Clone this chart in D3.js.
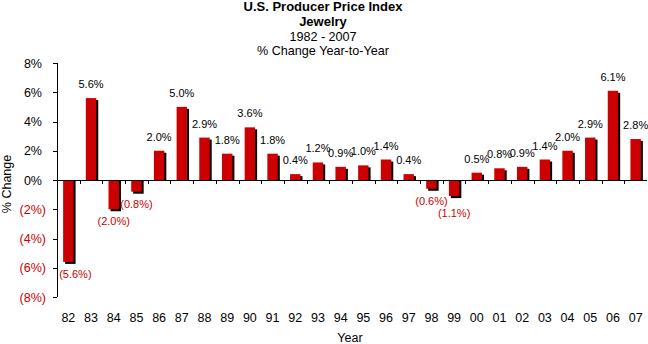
<!DOCTYPE html>
<html>
<head>
<meta charset="utf-8">
<script src="https://cdn.jsdelivr.net/npm/d3@7"></script>
<style>
  body { margin: 0; background: #fff; }
  svg { display: block; font-family: Arial, "Liberation Sans", sans-serif; }
</style>
</head>
<body>
<script>
// chart data
var years = ["82", "83", "84", "85", "86", "87", "88", "89", "90", "91", "92", "93", "94",
             "95", "96", "97", "98", "99", "00", "01", "02", "03", "04", "05", "06", "07"];
var changes = [-5.6, 5.6, -2.0, -0.8, 2.0, 5.0, 2.9, 1.8, 3.6, 1.8, 0.4, 1.2, 0.9,
               1.0, 1.4, 0.4, -0.6, -1.1, 0.5, 0.8, 0.9, 1.4, 2.0, 2.9, 6.1, 2.8];
var yTicks = [-8, -6, -4, -2, 0, 2, 4, 6, 8];
var titleLines = ["U.S. Producer Price Index", "Jewelry", "1982 - 2007", "% Change Year-to-Year"];

var width = 648, height = 344;
var red = "#cc0000";

var svg = d3.select("body").append("svg").attr("width", width).attr("height", height);

var x = d3.scaleBand().domain(years).range([57, 647]);
var y = d3.scaleLinear().domain([-8, 8]).range([297, 63]);
var barW = x.bandwidth() * 0.46;

var data = years.map(function(d, i) { return {year: d, value: changes[i]}; });

// title
svg.selectAll(".title").data(titleLines)
  .enter().append("text")
  .attr("x", 323)
  .attr("y", function(d, i) { return [11, 26, 41, 55][i]; })
  .attr("text-anchor", "middle")
  .attr("font-size", function(d, i) { return i < 2 ? 13 : 12.6; })
  .attr("font-weight", function(d, i) { return i < 2 ? "bold" : "normal"; })
  .text(function(d) { return d; });

// shadows
svg.selectAll(".shadow").data(data)
  .enter().append("rect")
  .attr("x", function(d) { return x(d.year) + (x.bandwidth() - barW) / 2 + 2; })
  .attr("y", function(d) { return d.value > 0 ? y(d.value) + 2 : y(0); })
  .attr("width", barW)
  .attr("height", function(d) { return d.value > 0 ? y(0) - y(d.value) - 2 : y(d.value) - y(0) + 2; })
  .attr("fill", "#000");

// bars
svg.selectAll(".bar").data(data)
  .enter().append("rect")
  .attr("x", function(d) { return x(d.year) + (x.bandwidth() - barW) / 2; })
  .attr("y", function(d) { return y(Math.max(0, d.value)); })
  .attr("width", barW)
  .attr("height", function(d) { return Math.abs(y(d.value) - y(0)); })
  .attr("fill", red);

// y axis
svg.append("line").attr("x1", 57.5).attr("x2", 57.5).attr("y1", y(8)).attr("y2", y(-8))
  .attr("stroke", "#000");
svg.selectAll(".ytick").data(yTicks)
  .enter().append("line")
  .attr("x1", 53).attr("x2", 57)
  .attr("y1", function(d) { return Math.round(y(d)) + 0.5; })
  .attr("y2", function(d) { return Math.round(y(d)) + 0.5; })
  .attr("stroke", "#000");
svg.selectAll(".ylabel").data(yTicks)
  .enter().append("text")
  .attr("x", function(d) { return d < 0 ? 46 : 42; })
  .attr("y", function(d) { return y(d); })
  .attr("dy", "0.36em")
  .attr("text-anchor", "end")
  .attr("font-size", 12.5)
  .attr("fill", function(d) { return d < 0 ? red : "#000"; })
  .text(function(d) { return d < 0 ? "(" + (-d) + "%)" : d + "%"; });

// zero line with ticks between categories
svg.append("line").attr("x1", 57).attr("x2", 647)
  .attr("y1", Math.round(y(0)) + 0.5).attr("y2", Math.round(y(0)) + 0.5)
  .attr("stroke", "#000");
svg.selectAll(".xtick").data(years.slice(1))
  .enter().append("line")
  .attr("x1", function(d) { return Math.round(x(d)) + 0.5; })
  .attr("x2", function(d) { return Math.round(x(d)) + 0.5; })
  .attr("y1", y(0)).attr("y2", y(0) + 4)
  .attr("stroke", "#000");

// x labels
svg.selectAll(".xlabel").data(years)
  .enter().append("text")
  .attr("x", function(d) { return x(d) + x.bandwidth() / 2; })
  .attr("y", 322)
  .attr("text-anchor", "middle")
  .attr("font-size", 12.5)
  .text(function(d) { return d; });

// value labels
var vlabels = svg.selectAll(".vlabel").data(data)
  .enter().append("text")
  .attr("x", function(d) {
    var cx = x(d.year) + x.bandwidth() / 2;
    return d.value < 0 && cx < 80 ? cx + 7 : cx;
  })
  .attr("y", function(d) { return d.value > 0 ? y(d.value) - 10 : y(d.value) + 16; })
  .attr("text-anchor", "middle")
  .attr("font-size", 11)
  .attr("fill", function(d) { return d.value < 0 ? red : "#000"; })
  .text(function(d) { return d.value < 0 ? "(" + (-d.value).toFixed(1) + "%)" : d.value.toFixed(1) + "%"; });

// nudge a negative label down when it runs into its neighbour's
var prev = null;
vlabels.each(function(d) {
  if (d.value >= 0) { prev = null; return; }
  var b = this.getBBox();
  if (prev && b.x < prev.x + prev.width && b.y < prev.y + prev.height && b.y + b.height > prev.y) {
    var shift = prev.y + prev.height - b.y;
    d3.select(this).attr("y", +d3.select(this).attr("y") + shift);
    b = this.getBBox();
  }
  prev = b;
});

// axis titles
svg.append("text")
  .attr("transform", "translate(11,184) rotate(-90)")
  .attr("text-anchor", "middle")
  .attr("font-size", 12.5)
  .text("% Change");
svg.append("text")
  .attr("x", 350).attr("y", 342)
  .attr("text-anchor", "middle")
  .attr("font-size", 12.5)
  .text("Year");
</script>
</body>
</html>
